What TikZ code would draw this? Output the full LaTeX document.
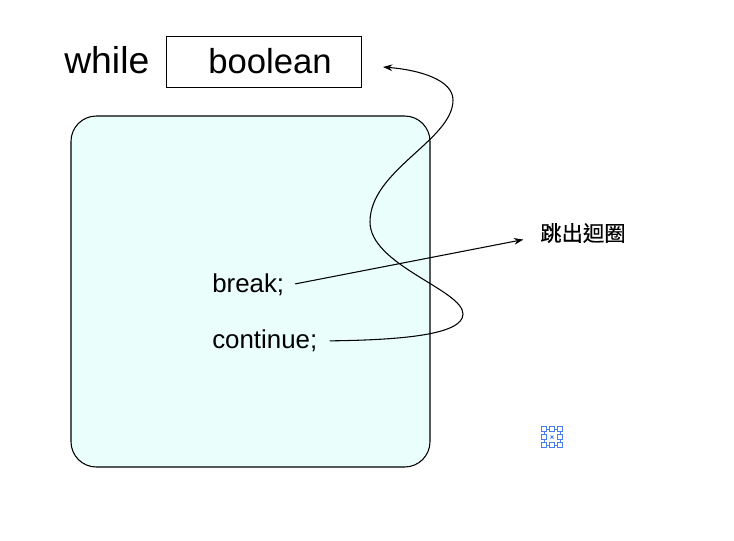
\documentclass[tikz,border=0pt]{standalone}
\usepackage{fontspec}
\setmainfont{Liberation Sans}
\newfontfamily\cjkfont[FakeBold=0.5]{Noto Sans CJK TC}
\usetikzlibrary{arrows.meta}
\definecolor{boxFill}{HTML}{EAFFFB}
\definecolor{handleBlue}{HTML}{4A7DF0}

\begin{document}
\begin{tikzpicture}
[x=0.75pt,y=-0.75pt,
  labelDecorate/.style={inner sep=0pt,anchor=west},%
  lineDecorate/.style={-{Stealth[length=7pt,width=5pt]},line width=0.8pt},%
  handleDecorate/.style={shape=rectangle,draw=handleBlue,line width=0.75pt,fill=white,
    inner sep=0pt,minimum size=3.4pt},%
  handleLine/.style={-,draw=handleBlue,line width=0.7pt}]
\useasboundingbox (0,0) rectangle (734,540);
%% body of the loop
\draw[fill=boxFill,line width=0.8pt,rounded corners=19pt] (71,116) rectangle (430,467);
%% condition and labels
\node (whileLabel) at (64,60) [labelDecorate] {\fontsize{28pt}{30pt}\selectfont while};
\node (condBox) at (263.5,61.5) [draw,line width=0.65pt,inner sep=0pt,minimum width=146.25pt,
  minimum height=38.25pt] {\raisebox{-0.75pt}{\fontsize{26pt}{28pt}\selectfont\hspace*{9.75pt}boolean}};
\node (breakLabel) at (212,285) [labelDecorate] {\fontsize{19.4pt}{22pt}\selectfont break;};
\node (continueLabel) at (212,341) [labelDecorate] {\fontsize{19.4pt}{22pt}\selectfont continue;};
\node (exitLabel) at (540,233) [labelDecorate] {\cjkfont\fontsize{16pt}{18pt}\selectfont 跳出迴圈};
%% free end of the curve
\coordinate (condEnd) at (383,67);
%% edges or lines
\draw[lineDecorate,shorten <=8.25pt,shorten >=12.75pt] ([yshift=-0.75pt]breakLabel.east) -- ([yshift=-2.5pt]exitLabel.west);
\draw[lineDecorate,shorten <=9pt] (continueLabel.east)
  .. controls (400,340) and (463,335) .. (463,314)
  .. controls (463,290) and (370,265) .. (370,222)
  .. controls (370,170) and (453,140) .. (453,100)
  .. controls (453,80) and (420,70) .. (condEnd);
%% selection handles
\foreach \nodename/\x/\y in {
  h1/544/429, h2/552/429, h3/560/429, h4/544/437, h6/560/437, h7/544/445, h8/552/445, h9/560/445}
{
  \node (\nodename) at (\x,\y) [handleDecorate] {};
}
\path
\foreach \startnode/\endnode in {
  h1/h2, h2/h3, h1/h4, h3/h6, h4/h7, h6/h9, h7/h8, h8/h9}
{
  (\startnode) edge[handleLine] (\endnode)
};
\draw[handleLine] (550.5,435.5) -- (553.5,438.5) (553.5,435.5) -- (550.5,438.5);
\end{tikzpicture}
\end{document}
